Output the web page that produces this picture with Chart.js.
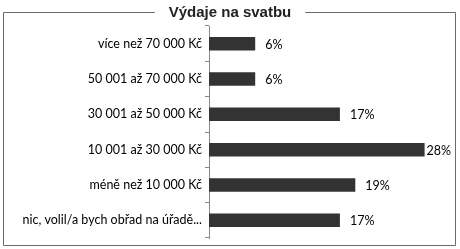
<!DOCTYPE html>
<html>
<head>
<meta charset="utf-8">
<script src="https://cdn.jsdelivr.net/npm/chart.js@4"></script>
<style>
  html, body { margin: 0; padding: 0; background: #fff; }
  #wrap { width: 460px; height: 249px; }
</style>
</head>
<body>
<div id="wrap"><canvas id="graf"></canvas></div>
<script>
// data
const kategorie = [
    "více než 70 000 Kč",
    "50 001 až 70 000 Kč",
    "30 001 až 50 000 Kč",
    "10 001 až 30 000 Kč",
    "méně než 10 000 Kč",
    "nic, volil/a bych obřad na úřadě..."
];
const podily = [6, 6, 17, 28, 19, 17];
const nadpis = "Výdaje na svatbu";

// ramecek + nadpis
const ramecek = {
    id: "ramecek",
    afterDraw(chart) {
        const ctx = chart.ctx;
        ctx.save();
        ctx.font = "bold 15px 'Liberation Sans', Arial, sans-serif";
        const w = ctx.measureText(nadpis).width;
        const cx = 230, ty = 12;
        ctx.strokeStyle = "#6b6b6b";
        ctx.lineWidth = 1;
        ctx.beginPath();
        ctx.moveTo(cx - w / 2 - 14, ty + 0.5);
        ctx.lineTo(3.5, ty + 0.5);
        ctx.lineTo(3.5, 245.5);
        ctx.lineTo(455.5, 245.5);
        ctx.lineTo(455.5, ty + 0.5);
        ctx.lineTo(cx + w / 2 + 14, ty + 0.5);
        ctx.stroke();
        ctx.fillStyle = "#222";
        ctx.textAlign = "center";
        ctx.textBaseline = "middle";
        ctx.fillText(nadpis, cx, ty + 1);
        ctx.restore();
    }
};

// popisky hodnot za sloupci
const popisky = {
    id: "popisky",
    afterDatasetsDraw(chart) {
        const ctx = chart.ctx;
        const meta = chart.getDatasetMeta(0);
        ctx.save();
        ctx.font = "12.5px Lato, 'Open Sans', sans-serif";
        ctx.fillStyle = "#000";
        ctx.textBaseline = "middle";
        meta.data.forEach((bar, i) => {
            const txt = podily[i] + "%";
            const tw = ctx.measureText(txt).width;
            let x = bar.x + 10;
            if (x + tw > 452) x = bar.x + 2;
            ctx.fillText(txt, x, bar.y + 1);
        });
        ctx.restore();
    }
};

new Chart(document.getElementById("graf"), {
    type: "bar",
    data: {
        labels: kategorie,
        datasets: [{
            data: podily,
            backgroundColor: "#333333",
            borderWidth: 0,
            barPercentage: 0.38,
            categoryPercentage: 1
        }]
    },
    options: {
        indexAxis: "y",
        responsive: true,
        maintainAspectRatio: false,
        animation: false,
        layout: { padding: { top: 26, bottom: 11, left: 0, right: 20 } },
        plugins: {
            legend: { display: false },
            tooltip: { enabled: false }
        },
        scales: {
            x: { display: false, min: 0, max: 30 },
            y: {
                afterFit: s => { s.width = 209; },
                grid: {
                    drawOnChartArea: false,
                    drawTicks: true,
                    tickLength: 4,
                    color: "#888"
                },
                border: { display: true, color: "#888" },
                ticks: {
                    color: "#000",
                    padding: 3,
                    font: { family: "Lato, 'Open Sans', sans-serif", size: 12.5 }
                }
            }
        }
    },
    plugins: [ramecek, popisky]
});
</script>
</body>
</html>
